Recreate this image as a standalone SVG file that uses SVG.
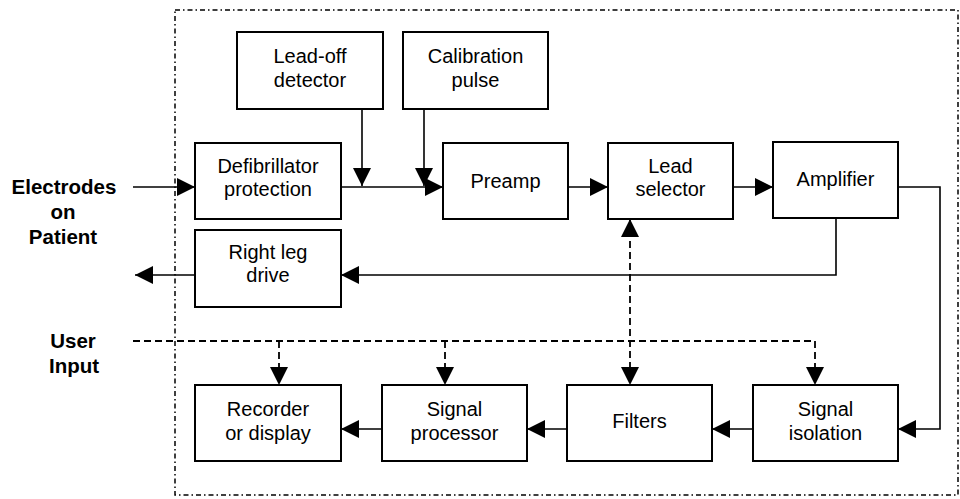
<svg xmlns="http://www.w3.org/2000/svg" width="960" height="499" viewBox="0 0 960 499">
<defs>
<style>
.box{fill:#fff;stroke:#000;stroke-width:2}
.t{font-family:"Liberation Sans",Arial,sans-serif;font-size:20px;fill:#000;text-anchor:middle}
.b{font-family:"Liberation Sans",Arial,sans-serif;font-size:20.5px;font-weight:bold;fill:#000;text-anchor:middle}
.c{fill:none;stroke:#000;stroke-width:1.6}
.d{fill:none;stroke:#000;stroke-width:1.8;stroke-dasharray:7,4}
.frame{fill:none;stroke:#000;stroke-width:1.5;stroke-dasharray:5,3,1.5,3}
</style>
<marker id="ah" markerUnits="userSpaceOnUse" markerWidth="19" markerHeight="18" refX="18" refY="9" orient="auto">
<path d="M0,0 L18,9 L0,18 Z" fill="#000"/>
</marker>
<marker id="ahs" markerUnits="userSpaceOnUse" markerWidth="19" markerHeight="18" refX="0" refY="9" orient="auto">
<path d="M18,0 L0,9 L18,18 Z" fill="#000"/>
</marker>
</defs>
<rect width="960" height="499" fill="#fff"/>
<rect class="frame" x="175" y="10" width="783" height="485"/>

<g id="labels">
<text class="b" x="64" y="194">Electrodes</text>
<text class="b" x="63" y="219">on</text>
<text class="b" x="63" y="244">Patient</text>
<text class="b" x="73" y="348">User</text>
<text class="b" x="74" y="373">Input</text>
</g>

<g id="connectors">
<line class="c" x1="133" y1="187" x2="195" y2="187" marker-end="url(#ah)"/>
<line class="c" x1="341" y1="187" x2="443" y2="187" marker-end="url(#ah)"/>
<line class="c" x1="362" y1="109" x2="362" y2="186" marker-end="url(#ah)"/>
<line class="c" x1="424" y1="109" x2="424" y2="186" marker-end="url(#ah)"/>
<line class="c" x1="568" y1="187" x2="608" y2="187" marker-end="url(#ah)"/>
<line class="c" x1="733" y1="187" x2="773" y2="187" marker-end="url(#ah)"/>
<polyline class="c" points="898,187 940,187 940,429 898,429" marker-end="url(#ah)"/>
<polyline class="c" points="836,218 836,275 341,275" marker-end="url(#ah)"/>
<line class="c" x1="195" y1="275" x2="135" y2="275" marker-end="url(#ah)"/>
<line class="c" x1="753" y1="429" x2="712" y2="429" marker-end="url(#ah)"/>
<line class="c" x1="567" y1="429" x2="527" y2="429" marker-end="url(#ah)"/>
<line class="c" x1="382" y1="429" x2="341" y2="429" marker-end="url(#ah)"/>
<line class="d" x1="630" y1="219" x2="630" y2="385" marker-start="url(#ahs)" marker-end="url(#ah)"/>
<polyline class="d" points="133,341 815,341 815,385" marker-end="url(#ah)"/>
<line class="d" x1="279" y1="341" x2="279" y2="385" marker-end="url(#ah)"/>
<line class="d" x1="445" y1="341" x2="445" y2="385" marker-end="url(#ah)"/>
</g>

<g id="lead-off">
<rect class="box" x="237" y="32" width="146" height="77"/>
<text class="t" x="310" y="63">Lead-off</text>
<text class="t" x="310" y="87">detector</text>
</g>
<g id="calibration">
<rect class="box" x="403" y="32" width="145" height="77"/>
<text class="t" x="475.5" y="63">Calibration</text>
<text class="t" x="475.5" y="87">pulse</text>
</g>
<g id="defib">
<rect class="box" x="195" y="143" width="146" height="76"/>
<text class="t" x="268" y="173">Defibrillator</text>
<text class="t" x="268" y="196">protection</text>
</g>
<g id="preamp">
<rect class="box" x="443" y="143" width="125" height="76"/>
<text class="t" x="505.5" y="188">Preamp</text>
</g>
<g id="lead-selector">
<rect class="box" x="608" y="143" width="125" height="76"/>
<text class="t" x="670.5" y="173">Lead</text>
<text class="t" x="670.5" y="196">selector</text>
</g>
<g id="amplifier">
<rect class="box" x="773" y="142" width="125" height="76"/>
<text class="t" x="835.5" y="186">Amplifier</text>
</g>
<g id="right-leg">
<rect class="box" x="195" y="230" width="146" height="77"/>
<text class="t" x="268" y="259">Right leg</text>
<text class="t" x="268" y="282">drive</text>
</g>
<g id="recorder">
<rect class="box" x="195" y="385" width="146" height="76"/>
<text class="t" x="268" y="416">Recorder</text>
<text class="t" x="268" y="440">or display</text>
</g>
<g id="signal-processor">
<rect class="box" x="382" y="385" width="145" height="76"/>
<text class="t" x="454.5" y="416">Signal</text>
<text class="t" x="454.5" y="440">processor</text>
</g>
<g id="filters">
<rect class="box" x="567" y="385" width="145" height="76"/>
<text class="t" x="639.5" y="428">Filters</text>
</g>
<g id="signal-isolation">
<rect class="box" x="753" y="385" width="145" height="76"/>
<text class="t" x="825.5" y="416">Signal</text>
<text class="t" x="825.5" y="440">isolation</text>
</g>
</svg>
